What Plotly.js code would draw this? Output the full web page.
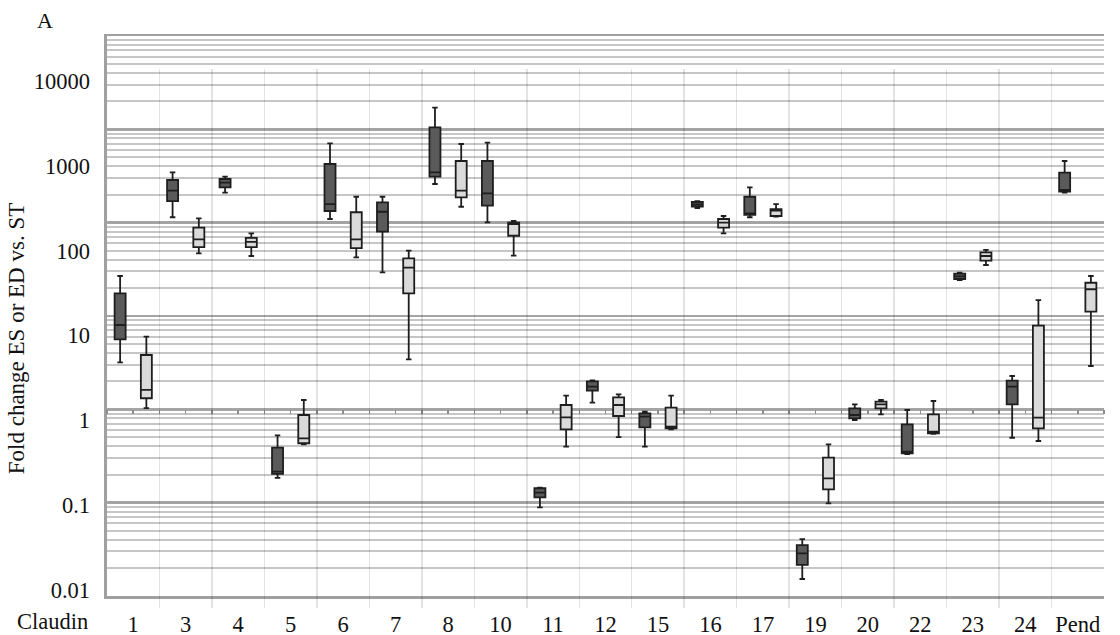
<!DOCTYPE html>
<html>
<head>
<meta charset="utf-8">
<script src="https://cdn.plot.ly/plotly-3.0.1.min.js"></script>
<style>html,body{margin:0;padding:0;background:#fff}#chart{width:1120px;height:635px}</style>
</head>
<body>
<div id="chart"></div>
<script>
// ---------- data ----------
const categories = ['1','3','4','5','6','7','8','10','11','12','15','16','17','19','20','22','23','24','Pend'];

// ES (dark boxes)
const esUpper  = [50.3, 841, 746, 0.665, 1847, 433, 4857, 1878, 0.161, 2.95, 1.263, 385, 559, 0.0398, 1.544, 1.323, 55.0, 3.33, 1142];
const esQ3     = [31.4, 682, 701, 0.475, 1053, 372, 2852, 1142, 0.158, 2.88, 1.209, 375, 433, 0.0338, 1.385, 0.897, 53.8, 2.93, 831];
const esMedian = [13.3, 510, 634, 0.248, 355, 288, 840, 475, 0.140, 2.49, 1.103, 351, 276, 0.0270, 1.155, 0.426, 49.9, 2.49, 520];
const esQ1     = [9.02, 385, 559, 0.233, 294, 167.5, 746, 339.5, 0.1236, 2.234, 0.827, 332, 264, 0.0197, 1.056, 0.408, 46.4, 1.544, 496];
const esLower  = [4.83, 248, 483, 0.210, 236.5, 55.6, 612, 216, 0.0942, 1.612, 0.488, 318.7, 248, 0.01344, 1.008, 0.4005, 45.1, 0.623, 483];

// ED (light boxes)
const edUpper  = [9.68, 241, 160, 1.735, 433, 100, 1813, 224, 1.95, 2.026, 1.95, 256.6, 355, 0.521, 1.735, 1.689, 102, 26.2, 50.3];
const edQ3     = [5.89, 187, 142, 1.155, 284, 81.4, 1142, 214, 1.515, 1.867, 1.408, 236.5, 310, 0.362, 1.657, 1.177, 95.7, 13.05, 41.9];
const edMedian = [2.28, 136, 127, 0.613, 136, 63, 510, 206.5, 1.085, 1.515, 0.84, 214, 298, 0.207, 1.544, 0.734, 86.6, 1.073, 35.1];
const edQ1     = [1.82, 110, 110, 0.536, 107, 31.4, 426, 150, 0.783, 1.124, 0.805, 187, 256.6, 0.1536, 1.385, 0.703, 76.2, 0.805, 19.1];
const edLower  = [1.39, 93, 86.6, 0.521, 83.6, 5.24, 330, 87.3, 0.488, 0.635, 0.783, 160, 251.8, 0.105, 1.177, 0.69, 67.8, 0.570, 4.37];

// axis ticks
const yTickVals = [0.01, 0.1, 1, 10, 100, 1000, 10000];
const yTickText = ['0.01', '0.1', '1', '10', '100', '1000', '10000'];
const gridDecades = [-2, -1, 0, 1, 2, 3];
const gridDigits = [2, 3, 4, 5, 6, 7, 8, 9];

// ---------- layout helpers ----------
const FONT = 'Liberation Serif, Times New Roman, serif';
const plotTop = 36, plotBottom = 608, H = 635, W = 1120;
const plotH = plotBottom - plotTop;
const gridDomainLow = (plotBottom - 596) / plotH;
const vGridDomainHigh = (plotBottom - 69) / plotH;
const gridRange = [-2, 4];
const dataRange = [-2.2134, 4.1427];
const oneLinePos = gridDomainLow + (0 - gridRange[0]) / (gridRange[1] - gridRange[0]) * (1 - gridDomainLow);

const minorVals = [];
gridDecades.forEach(d => gridDigits.forEach(k => minorVals.push(k * Math.pow(10, d))));

function boxTrace(name, up, q3, med, q1, lo, fill) {
  return {
    type: 'box', name: name, x: categories,
    upperfence: up, q3: q3, median: med, q1: q1, lowerfence: lo,
    xaxis: 'x2', yaxis: 'y2',
    fillcolor: fill,
    line: {color: '#1e1e1e', width: 1.8},
    whiskerwidth: 0.5,
    boxpoints: false,
    showlegend: false,
    hoverinfo: 'y'
  };
}

// invisible helpers so that the grid subplot and the tick axis are drawn
function anchorTrace(xa, ya) {
  return {type: 'scatter', mode: 'markers', x: [0], y: [1], xaxis: xa, yaxis: ya,
          marker: {opacity: 0, size: 1}, hoverinfo: 'skip', showlegend: false};
}

const data = [
  anchorTrace('x', 'y'),
  anchorTrace('x3', 'y'),
  boxTrace('ES', esUpper, esQ3, esMedian, esQ1, esLower, '#5a5a5a'),
  boxTrace('ED', edUpper, edQ3, edMedian, edQ1, edLower, '#dadada')
];

const layout = {
  width: W, height: H,
  margin: {l: 107, r: 16, t: plotTop, b: H - plotBottom, pad: 0},
  paper_bgcolor: '#ffffff',
  plot_bgcolor: 'rgba(0,0,0,0)',
  font: {family: FONT, size: 22.5, color: '#111'},
  showlegend: false,
  boxmode: 'group', boxgap: 0, boxgroupgap: 0.58,
  title: {text: 'A', font: {family: FONT, size: 22, color: '#111'},
          x: 45 / W, xref: 'container', xanchor: 'center',
          y: 1 - 20 / H, yref: 'container', yanchor: 'middle'},
  // grid subplot
  xaxis: {domain: [0, 1], anchor: 'y', range: [-0.5, 18.5], type: 'linear',
          showgrid: false, zeroline: false, showticklabels: false, ticks: '',
          showline: true, mirror: true, linecolor: '#a0a0a0', linewidth: 2.5, fixedrange: true},
  yaxis: {domain: [gridDomainLow, 1], anchor: 'x', type: 'log', range: gridRange,
          tickvals: yTickVals, showticklabels: false, ticks: '',
          showgrid: true, gridcolor: '#a4a4a4', gridwidth: 2.4,
          minor: {tickvals: minorVals, showgrid: true, gridcolor: '#c6c6c6', gridwidth: 2, ticks: ''},
          showline: true, linecolor: '#a0a0a0', linewidth: 3, zeroline: false, fixedrange: true},
  // tick marks along the line at 1
  xaxis3: {overlaying: 'x', anchor: 'free', position: oneLinePos, side: 'bottom',
           range: [-0.5, 18.5], type: 'linear', tick0: -0.5, dtick: 0.5,
           ticks: 'outside', ticklen: 4, tickwidth: 1.5, tickcolor: '#8c8c8c',
           showticklabels: false, showgrid: false, zeroline: false, showline: false, fixedrange: true},
  // data subplot
  xaxis2: {domain: [0, 1], anchor: 'y2', type: 'category', categoryorder: 'array', categoryarray: categories,
           range: [-0.5, 18.5], tickson: 'boundaries', ticks: '', tickangle: 0,
           showgrid: true, gridcolor: 'rgba(0,0,0,0.11)', gridwidth: 1.5,
           showline: false, zeroline: false,
           tickfont: {family: FONT, size: 22.5, color: '#111'}, fixedrange: true},
  yaxis2: {domain: [0, vGridDomainHigh], anchor: 'x2', type: 'log', range: dataRange,
           tickvals: yTickVals, ticktext: yTickText, ticks: '', ticklabelstandoff: 16,
           showgrid: false, zeroline: false, showline: false,
           tickfont: {family: FONT, size: 22.5, color: '#111'},
           title: {text: 'Fold change ES or ED vs. ST', font: {family: FONT, size: 23, color: '#111'}, standoff: 2},
           fixedrange: true},
  annotations: [
    {text: 'Claudin', xref: 'paper', yref: 'paper', x: (52 - 107) / 997, y: (plotBottom - 622) / plotH,
     xanchor: 'center', yanchor: 'middle', showarrow: false,
     font: {family: FONT, size: 22.5, color: '#111'}}
  ]
};

Plotly.newPlot('chart', data, layout, {displayModeBar: false, staticPlot: true});
</script>
</body>
</html>
